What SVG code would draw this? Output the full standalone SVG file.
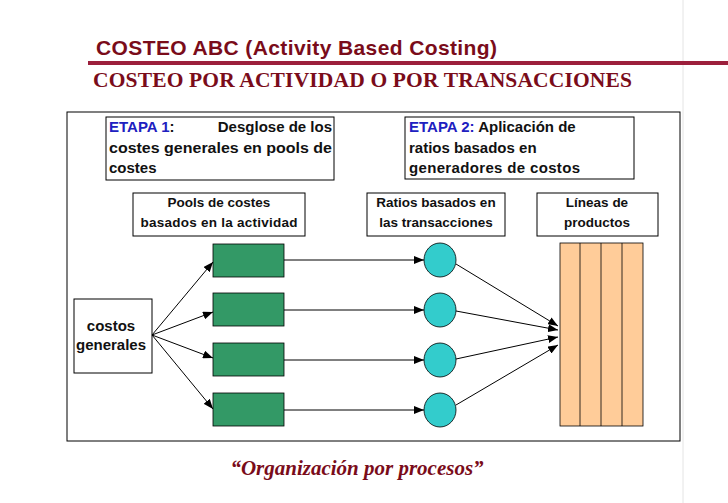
<svg xmlns="http://www.w3.org/2000/svg" width="728" height="503" viewBox="0 0 728 503">
<style>
.t{font-family:"Liberation Sans",Arial,sans-serif;font-size:15px;font-weight:bold;fill:#111}
.s{font-size:13.5px}
.b{fill:#fff;stroke:#000;stroke-width:1}
.g{fill:#339966;stroke:#000;stroke-width:0.8}
.c{fill:#33cccc;stroke:#000;stroke-width:0.8}
.e{fill:#2020c0}
.ln{stroke:#000;stroke-width:1;fill:none;marker-end:url(#ah)}
</style>
<defs><marker id="ah" markerWidth="10" markerHeight="8" refX="10" refY="4" orient="auto" markerUnits="userSpaceOnUse"><path d="M0,0L10,4L0,8z" fill="#000"/></marker></defs>
<rect width="728" height="503" fill="#fff"/>
<line x1="683" y1="0" x2="683" y2="503" stroke="#e4e4e4" stroke-width="1"/>
<text x="96" y="55" font-family="Liberation Sans,Arial,sans-serif" font-size="21" font-weight="bold" fill="#7a0c1a" textLength="401">COSTEO ABC (Activity Based Costing)</text>
<rect x="88" y="61" width="640" height="4" fill="#9c1f3c"/>
<text x="93" y="87" font-family="Liberation Serif,Times New Roman,serif" font-size="21.5" font-weight="bold" fill="#7a0c1a" textLength="539">COSTEO POR ACTIVIDAD O POR TRANSACCIONES</text>
<rect x="67" y="112" width="613" height="329" class="b"/>
<g id="etapa1"><rect x="106" y="117" width="228" height="63" class="b"/>
<text x="109" y="132" class="t" font-size="14"><tspan class="e">ETAPA 1</tspan>:</text><text x="332" y="132" class="t" font-size="14" text-anchor="end">Desglose de los</text>
<text x="109" y="153" class="t" font-size="14" textLength="223" lengthAdjust="spacingAndGlyphs">costes generales en pools de</text>
<text x="109" y="173" class="t" font-size="14">costes</text></g>
<g id="etapa2"><rect x="405" y="117" width="229" height="62" class="b"/>
<text x="409" y="132" class="t" font-size="14"><tspan class="e">ETAPA 2:</tspan>    Aplicación de</text>
<text x="409" y="153" class="t" font-size="14">ratios basados en</text>
<text x="409" y="173" class="t" font-size="14" textLength="171">generadores de costos</text></g>
<g id="pools"><rect x="133" y="193" width="172" height="43" class="b"/>
<text x="219" y="207" class="t s" text-anchor="middle">Pools de costes</text>
<text x="219" y="227" class="t s" text-anchor="middle" textLength="157">basados en la actividad</text></g>
<g id="ratios"><rect x="367" y="193" width="138" height="43" class="b"/>
<text x="436" y="207" class="t s" text-anchor="middle">Ratios basados en</text>
<text x="436" y="227" class="t s" text-anchor="middle">las transacciones</text></g>
<g id="lineas"><rect x="537" y="193" width="121" height="43" class="b"/>
<text x="597" y="207" class="t s" text-anchor="middle">Líneas de</text>
<text x="597" y="227" class="t s" text-anchor="middle">productos</text></g>
<g id="costos"><rect x="74" y="299" width="78" height="74" class="b"/>
<text x="111" y="331" class="t" text-anchor="middle" font-size="14">costos</text>
<text x="111" y="350" class="t" text-anchor="middle" font-size="14">generales</text></g>
<g id="pool1"><rect x="213" y="244" width="71" height="33" class="g"/></g>
<g id="pool2"><rect x="213" y="293" width="71" height="33" class="g"/></g>
<g id="pool3"><rect x="213" y="343" width="71" height="33" class="g"/></g>
<g id="pool4"><rect x="213" y="393" width="71" height="33" class="g"/></g>
<g id="ratio1"><ellipse cx="440" cy="260" rx="16" ry="17" class="c"/></g>
<g id="ratio2"><ellipse cx="440" cy="310" rx="16" ry="17" class="c"/></g>
<g id="ratio3"><ellipse cx="440" cy="360" rx="16" ry="17" class="c"/></g>
<g id="ratio4"><ellipse cx="440" cy="410" rx="16" ry="17" class="c"/></g>
<g id="productos"><rect x="560" y="243" width="83" height="183" fill="#ffcc99" stroke="#000" stroke-width="0.8"/>
<path d="M580,243V426M601,243V426M622,243V426" stroke="#000" stroke-width="0.8"/></g>
<g id="connectors">
<line x1="152" y1="335" x2="213" y2="262" class="ln"/>
<line x1="152" y1="335" x2="213" y2="312" class="ln"/>
<line x1="152" y1="335" x2="213" y2="358" class="ln"/>
<line x1="152" y1="335" x2="213" y2="409" class="ln"/>
<line x1="284" y1="260" x2="424" y2="260" class="ln"/>
<line x1="284" y1="310" x2="424" y2="310" class="ln"/>
<line x1="284" y1="360" x2="424" y2="360" class="ln"/>
<line x1="284" y1="410" x2="424" y2="410" class="ln"/>
<line x1="456" y1="264" x2="558" y2="326" class="ln"/>
<line x1="456" y1="311" x2="558" y2="330" class="ln"/>
<line x1="456" y1="359" x2="558" y2="337" class="ln"/>
<line x1="456" y1="405" x2="558" y2="345" class="ln"/>
</g>
<text x="357" y="475" text-anchor="middle" font-family="Liberation Serif,Times New Roman,serif" font-size="21" font-weight="bold" font-style="italic" fill="#7a0c1a">“Organización por procesos”</text>
</svg>
